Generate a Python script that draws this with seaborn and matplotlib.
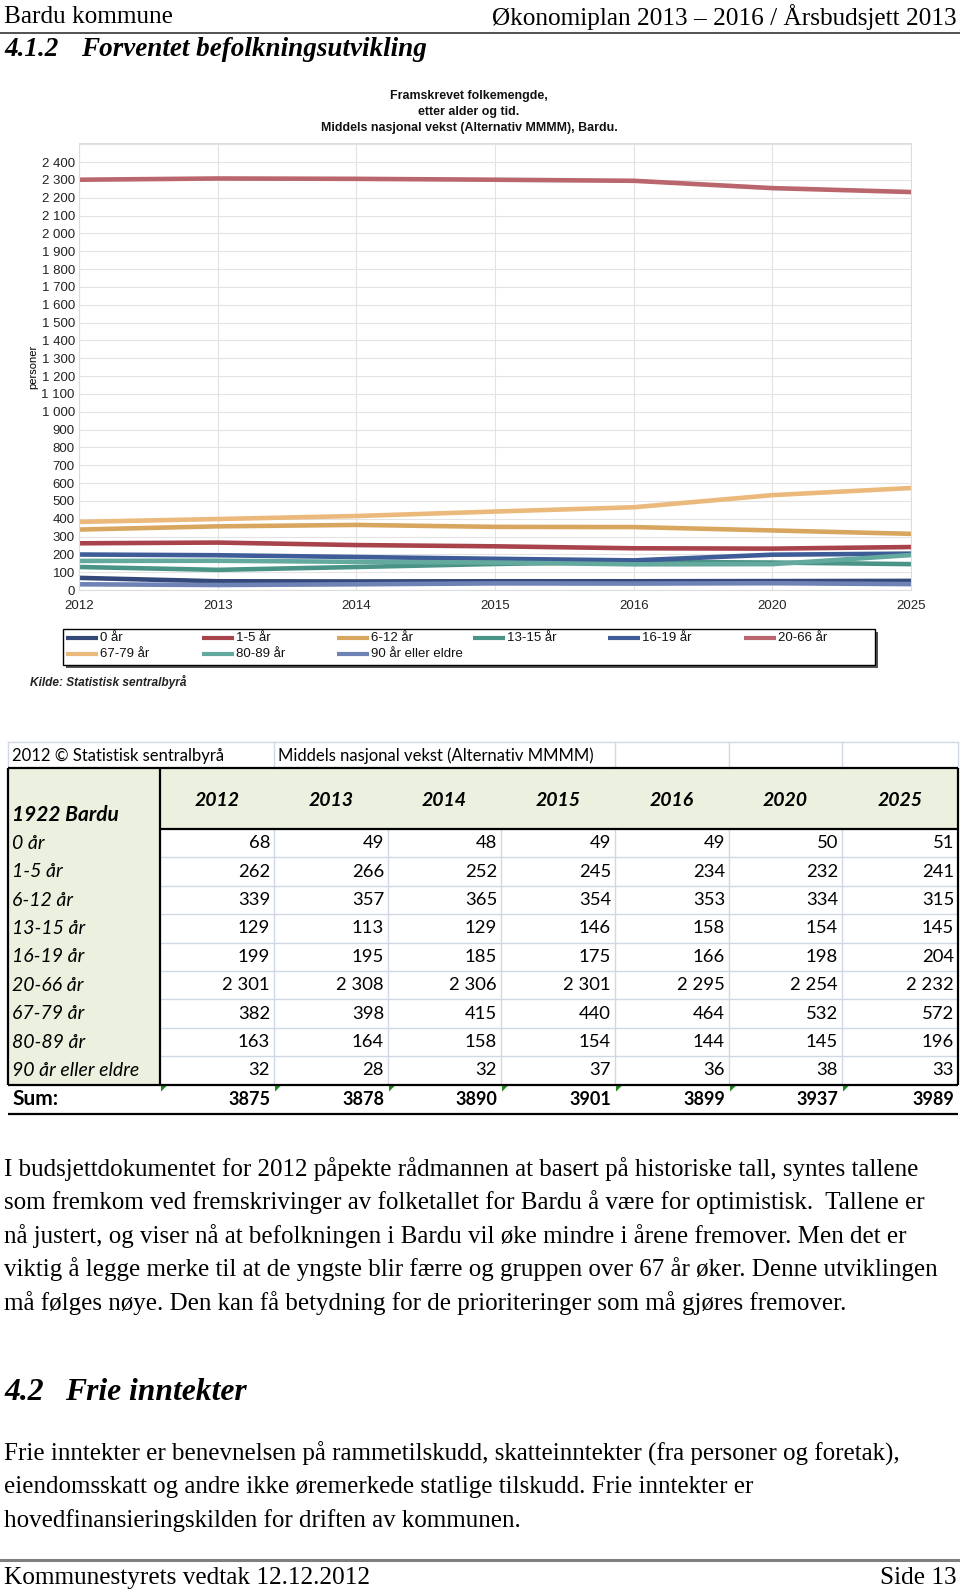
import numpy as np
import pandas as pd
import matplotlib
matplotlib.use('Agg')
import matplotlib.pyplot as plt
import seaborn as sns
from matplotlib.patches import Rectangle, Polygon
from matplotlib.ticker import FuncFormatter, MultipleLocator

# Data: SSB population projection for Bardu (MMMM)
years = ['2012', '2013', '2014', '2015', '2016', '2020', '2025']
groups = ['0 år', '1-5 år', '6-12 år', '13-15 år', '16-19 år',
          '20-66 år', '67-79 år', '80-89 år', '90 år eller eldre']

g_0 = [68, 49, 48, 49, 49, 50, 51]
g_1_5 = [262, 266, 252, 245, 234, 232, 241]
g_6_12 = [339, 357, 365, 354, 353, 334, 315]
g_13_15 = [129, 113, 129, 146, 158, 154, 145]
g_16_19 = [199, 195, 185, 175, 166, 198, 204]
g_20_66 = [2301, 2308, 2306, 2301, 2295, 2254, 2232]
g_67_79 = [382, 398, 415, 440, 464, 532, 572]
g_80_89 = [163, 164, 158, 154, 144, 145, 196]
g_90 = [32, 28, 32, 37, 36, 38, 33]

series = [g_0, g_1_5, g_6_12, g_13_15, g_16_19, g_20_66, g_67_79, g_80_89, g_90]

colors = {
    '0 år': '#34497a',
    '1-5 år': '#a8434c',
    '6-12 år': '#d9a660',
    '13-15 år': '#4a9487',
    '16-19 år': '#3e5c98',
    '20-66 år': '#b9666c',
    '67-79 år': '#ecb97c',
    '80-89 år': '#63a99e',
    '90 år eller eldre': '#6f82b6',
}

rows = []
for g, vals in zip(groups, series):
    for y, v in zip(years, vals):
        rows.append({'år': y, 'gruppe': g, 'personer': v})
df = pd.DataFrame(rows)

sums = [sum(col) for col in zip(*series)]


def fmt(v, sep=' '):
    return f"{v:,}".replace(',', sep)


W, H = 960, 1592
fig = plt.figure(figsize=(W / 100, H / 100), dpi=100)
fig.patch.set_facecolor('white')

# page layer in pixel coordinates
page = fig.add_axes([0, 0, 1, 1])
page.set_xlim(0, W)
page.set_ylim(H, 0)
page.axis('off')

serif = 'Liberation Serif'
sans = 'Liberation Sans'
tab = 'Lato'

# header / footer
page.text(4, 17, 'Bardu kommune', family=serif, fontsize=18.2, va='center', ha='left')
page.text(957, 17, 'Økonomiplan 2013 – 2016 / Årsbudsjett 2013', family=serif,
          fontsize=18.2, va='center', ha='right')
page.plot([0, 960], [33, 33], color='#333333', lw=1.2)
page.text(4, 49, '4.1.2', family=serif, fontsize=19.5, weight='bold', style='italic', va='center')
page.text(81, 49, 'Forventet befolkningsutvikling', family=serif, fontsize=19.5,
          weight='bold', style='italic', va='center')

# chart title
for i, line in enumerate(['Framskrevet folkemengde,', 'etter alder og tid.',
                          'Middels nasjonal vekst (Alternativ MMMM), Bardu.']):
    page.text(469, 96 + 16 * i, line, family=sans, fontsize=8.9, weight='bold',
              ha='center', va='center', color='#111111')

# chart
x0, x1, y_top, y_bot = 79, 911, 143, 590
ax = fig.add_axes([x0 / W, 1 - y_bot / H, (x1 - x0) / W, (y_bot - y_top) / H])
sns.lineplot(data=df, x='år', y='personer', hue='gruppe', palette=colors,
             hue_order=groups, sort=False, lw=3.3, legend=False, ax=ax)
ax.set_xlim(0, len(years) - 1)
ax.set_ylim(0, 2507)
ax.yaxis.set_major_locator(MultipleLocator(100))
ax.yaxis.set_major_formatter(FuncFormatter(lambda v, p: fmt(int(v)) if v <= 2400 else ''))
ax.grid(True, color='#e3e3e3', lw=0.8)
ax.set_axisbelow(True)
for s in ax.spines.values():
    s.set_color('#dddddd')
    s.set_linewidth(0.8)
ax.tick_params(length=0, labelsize=9.5, pad=3)
ax.tick_params(axis='x', pad=7)
for lab in ax.get_xticklabels() + ax.get_yticklabels():
    lab.set_family(sans)
    lab.set_color('#222222')
ax.set_xlabel('')
ax.set_ylabel('personer', family=sans, fontsize=8, labelpad=2)

# legend box drawn in page pixels, row-major like the original
page.add_patch(Rectangle((66, 632), 875 - 63, 665 - 629, facecolor='#555555',
                         edgecolor='none', zorder=3))
page.add_patch(Rectangle((63, 629), 875 - 63, 665 - 629, facecolor='white',
                         edgecolor='black', lw=1.0, zorder=4))
for i, g in enumerate(groups):
    r, c = divmod(i, 6)
    lx = 66 + 135.6 * c
    ly = 638 + 16 * r
    page.plot([lx, lx + 32], [ly, ly], color=colors[g], lw=3, zorder=5,
              solid_capstyle='butt')
    page.text(lx + 34, ly, g, family=sans, fontsize=9.5, va='center', zorder=5,
              color='#111111')

page.text(30, 682, 'Kilde: Statistisk sentralbyrå', family=sans, fontsize=8.6,
          style='italic', weight='bold', va='center', color='#222222')

# table
cols = [8, 160, 274, 388, 501, 615, 729, 842, 958]
grid_c = '#d0d7e5'
green = '#ebf1de'
r0_top, r0_bot = 742, 768
hdr_bot = 829
row_h = 28.4
data_top = hdr_bot
sum_top = data_top + row_h * len(groups)
sum_bot = sum_top + 29

# copyright row
page.plot([cols[0], cols[-1]], [r0_top, r0_top], color=grid_c, lw=1)
for xc in [cols[0], 274, 615, 729, 842, cols[-1]]:
    page.plot([xc, xc], [r0_top, r0_bot], color=grid_c, lw=1)
page.text(12, 756, '2012 © Statistisk sentralbyrå', family=tab, fontsize=12, va='center')
page.text(278, 756, 'Middels nasjonal vekst (Alternativ MMMM)', family=tab, fontsize=12, va='center')

# green areas
page.add_patch(Rectangle((cols[1], r0_bot), cols[-1] - cols[1], hdr_bot - r0_bot,
                         facecolor=green, edgecolor='none'))
page.add_patch(Rectangle((cols[0], r0_bot), cols[1] - cols[0], sum_top - r0_bot,
                         facecolor=green, edgecolor='none'))

# light grid in data block
for i in range(1, len(groups)):
    yy = data_top + row_h * i
    page.plot([cols[1], cols[-1]], [yy, yy], color=grid_c, lw=1)
for xc in cols[2:-1]:
    page.plot([xc, xc], [data_top, sum_top], color=grid_c, lw=1)

# heavy borders
k = dict(color='black', lw=1.6, solid_capstyle='butt')
page.plot([cols[0], cols[-1]], [r0_bot, r0_bot], **k)
page.plot([cols[1], cols[-1]], [hdr_bot, hdr_bot], **k)
page.plot([cols[0], cols[0]], [r0_bot, sum_top], **k)
page.plot([cols[1], cols[1]], [r0_bot, sum_top], **k)
page.plot([cols[-1], cols[-1]], [r0_bot, sum_top], **k)
page.plot([cols[0], cols[-1]], [sum_top, sum_top], **k)
page.plot([cols[0], cols[-1]], [sum_bot, sum_bot], **k)

# header text
for j, y in enumerate(years):
    page.text((cols[j + 1] + cols[j + 2]) / 2, 800, y, family=tab, fontsize=14,
              weight='bold', style='italic', ha='center', va='center')
page.text(12, 815, '1922 Bardu', family=tab, fontsize=15, weight='bold',
          style='italic', va='center')

# data rows
for i, (g, vals) in enumerate(zip(groups, series)):
    yc = data_top + row_h * (i + 0.5)
    page.text(12, yc, g, family=tab, fontsize=14, style='italic', va='center')
    for j, v in enumerate(vals):
        page.text(cols[j + 2] - 4, yc, fmt(v), family=tab, fontsize=13.3,
                  ha='right', va='center')

# sum row
ys = (sum_top + sum_bot) / 2
page.text(12, ys, 'Sum:', family=tab, fontsize=15, weight='bold', va='center')
for j, v in enumerate(sums):
    page.text(cols[j + 2] - 4, ys, str(v), family=tab, fontsize=13, weight='bold',
              ha='right', va='center')
    xl = cols[j + 1] + 1
    page.add_patch(Polygon([[xl, sum_top + 1], [xl + 6, sum_top + 1], [xl, sum_top + 7]],
                           closed=True, facecolor='#1e8a1e', edgecolor='none'))

# paragraph 1
para1 = [
    'I budsjettdokumentet for 2012 påpekte rådmannen at basert på historiske tall, syntes tallene',
    'som fremkom ved fremskrivinger av folketallet for Bardu å være for optimistisk.  Tallene er',
    'nå justert, og viser nå at befolkningen i Bardu vil øke mindre i årene fremover. Men det er',
    'viktig å legge merke til at de yngste blir færre og gruppen over 67 år øker. Denne utviklingen',
    'må følges nøye. Den kan få betydning for de prioriteringer som må gjøres fremover.',
]
for i, line in enumerate(para1):
    page.text(4, 1169 + 33.4 * i, line, family=serif, fontsize=18, va='center')

page.text(4, 1392, '4.2', family=serif, fontsize=22.8, weight='bold', style='italic', va='center')
page.text(65, 1392, 'Frie inntekter', family=serif, fontsize=22.8, weight='bold',
          style='italic', va='center')

para2 = [
    'Frie inntekter er benevnelsen på rammetilskudd, skatteinntekter (fra personer og foretak),',
    'eiendomsskatt og andre ikke øremerkede statlige tilskudd. Frie inntekter er',
    'hovedfinansieringskilden for driften av kommunen.',
]
for i, line in enumerate(para2):
    page.text(4, 1454 + 33.4 * i, line, family=serif, fontsize=18, va='center')

page.plot([0, 960], [1560, 1560], color='#7f7f7f', lw=2.2)
page.text(4, 1578, 'Kommunestyrets vedtak 12.12.2012', family=serif, fontsize=18.2, va='center')
page.text(957, 1578, 'Side 13', family=serif, fontsize=18.2, va='center', ha='right')

fig.savefig('out.png', dpi=100, facecolor='white')
